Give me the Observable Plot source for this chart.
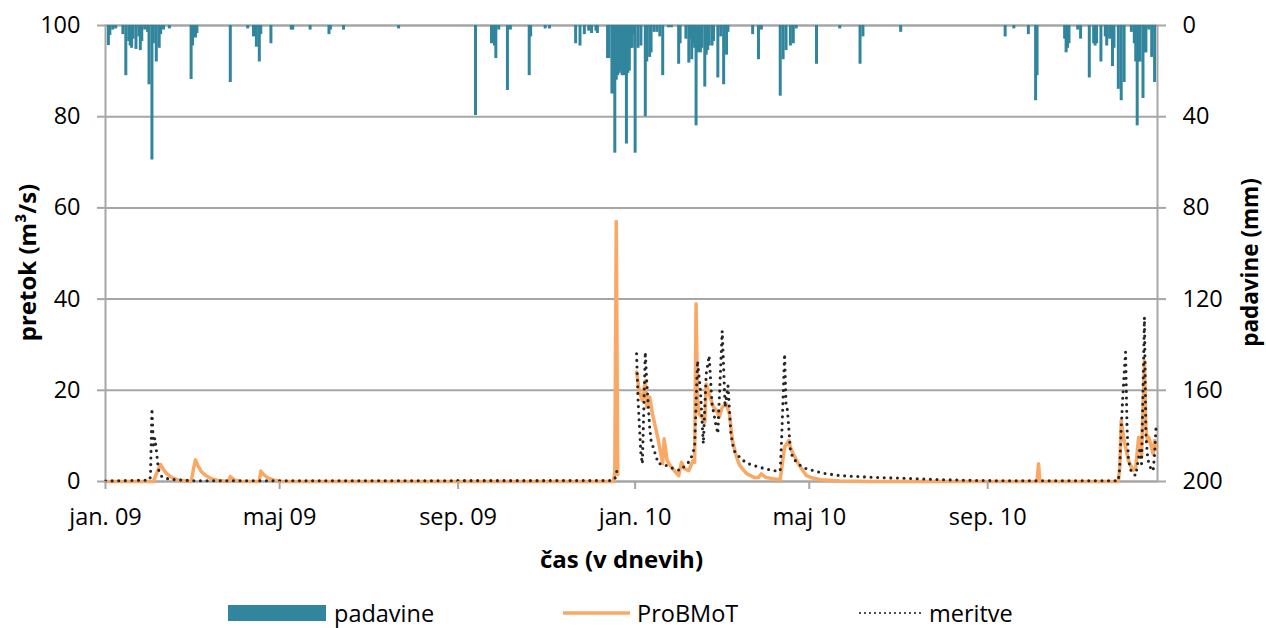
<!DOCTYPE html>
<html>
<head>
<meta charset="utf-8">
<script src="https://cdn.jsdelivr.net/npm/d3@7"></script>
<script src="https://cdn.jsdelivr.net/npm/@observablehq/plot@0.6"></script>
<style>
  body { margin: 0; background: #fff; }
  #chart svg { display: block; }
  #legend { position: relative; width: 1266px; height: 38px; font-family: "Open Sans", sans-serif; font-size: 23.5px; color: #000; }
  #legend .item { position: absolute; top: 6px; height: 34px; line-height: 34px; white-space: nowrap; }
  #legend svg { position: absolute; top: 0; }
</style>
</head>
<body>
<div id="chart"></div>
<div id="legend"></div>
<script>
// ---- x axis ticks ----
const xTickDates = ["2009-01-01", "2009-05-01", "2009-09-01", "2010-01-01", "2010-05-01", "2010-09-01"];
const xTickLabels = ["jan. 09", "maj 09", "sep. 09", "jan. 10", "maj 10", "sep. 10"];
const flowTicks = [0, 20, 40, 60, 80, 100];      // pretok (m3/s)
const rainTicks = [0, 40, 80, 120, 160, 200];    // padavine (mm), inverted

// ---- padavine (daily precipitation, mm) ----
const rainDates = [
  "2009-01-03","2009-01-04","2009-01-06","2009-01-08","2009-01-13","2009-01-15","2009-01-17","2009-01-18","2009-01-19","2009-01-20",
  "2009-01-22","2009-01-24","2009-01-25","2009-01-26","2009-01-28","2009-01-30","2009-01-31","2009-02-02","2009-02-03","2009-02-05",
  "2009-02-07","2009-02-08","2009-02-10","2009-02-14","2009-03-01","2009-03-02","2009-03-04","2009-03-05","2009-03-28","2009-04-09",
  "2009-04-13","2009-04-15","2009-04-17","2009-04-18","2009-04-25","2009-05-09","2009-05-10","2009-05-22","2009-06-04","2009-06-05",
  "2009-06-14","2009-07-22","2009-09-13","2009-09-24","2009-09-26","2009-09-27","2009-09-29","2009-10-05","2009-10-07","2009-10-20",
  "2009-10-21","2009-10-31","2009-11-03","2009-11-21","2009-11-24","2009-11-27","2009-11-30","2009-12-02","2009-12-05","2009-12-06",
  "2009-12-13","2009-12-14","2009-12-16","2009-12-17","2009-12-18","2009-12-19","2009-12-20","2009-12-21","2009-12-22","2009-12-23",
  "2009-12-24","2009-12-25","2009-12-26","2009-12-27","2009-12-28","2009-12-29","2009-12-30","2009-12-31",
  "2010-01-01","2010-01-03","2010-01-05","2010-01-08","2010-01-09","2010-01-11","2010-01-12","2010-01-14","2010-01-16","2010-01-18",
  "2010-01-20","2010-01-24","2010-01-26","2010-01-31","2010-02-01","2010-02-05","2010-02-07","2010-02-08","2010-02-09","2010-02-10",
  "2010-02-11","2010-02-12","2010-02-13","2010-02-15","2010-02-16","2010-02-18","2010-02-19","2010-02-20","2010-02-21","2010-02-23",
  "2010-02-24","2010-02-27","2010-03-01","2010-03-03","2010-03-05","2010-03-06","2010-03-23","2010-03-27","2010-03-29","2010-04-11",
  "2010-04-13","2010-04-15","2010-04-18","2010-04-20","2010-04-22","2010-05-06","2010-05-22","2010-06-05","2010-06-07","2010-07-03",
  "2010-09-13","2010-09-19","2010-09-29","2010-10-04","2010-10-05","2010-10-24","2010-10-25","2010-10-26","2010-10-27","2010-11-02",
  "2010-11-04","2010-11-10","2010-11-13","2010-11-14","2010-11-15","2010-11-18","2010-11-21","2010-11-22","2010-11-24","2010-11-26",
  "2010-11-27","2010-11-30","2010-12-02","2010-12-04","2010-12-09","2010-12-11","2010-12-12","2010-12-13","2010-12-14","2010-12-15",
  "2010-12-17","2010-12-18","2010-12-19","2010-12-21","2010-12-23","2010-12-25"
];
const rainMm = [
  8.8, 4.4, 2, 1.5, 4, 22, 7, 9, 10, 6,
  10.5, 5, 11, 7, 2, 3, 26, 59, 8, 16,
  10, 4, 2, 1.5, 23.7, 9, 5.5, 3.5, 25, 1.5,
  5, 9.5, 16, 4, 8, 2, 2, 2, 4, 2,
  2, 1.5, 39.5, 8, 9, 14.5, 2, 28.5, 2, 22,
  5, 1.5, 1.5, 8, 9, 4, 2.5, 3.5, 2.5, 3.5,
  14.5, 14.5, 30, 30, 56, 24, 22, 21, 20, 22,
  22, 20, 52, 21, 20, 10, 10, 4,
  56, 10, 9, 40, 16, 14, 12, 3, 3, 5,
  22, 1, 1, 17, 8, 6, 16.5, 6, 15, 8,
  10, 44, 12, 12, 10, 27, 13, 11, 9, 9,
  7, 23, 5, 26, 13, 3, 4, 15, 2, 31,
  15, 11, 9, 8, 1.5, 17, 1.5, 17, 5, 3,
  5, 1.5, 4, 33, 22, 6, 12, 10, 8, 2,
  6, 23, 8, 9, 8, 16, 5, 9, 6, 18,
  10, 28, 33, 25, 3, 8, 16, 44, 16, 16,
  32, 12, 12, 2, 14, 25
];

// ---- ProBMoT (modelled flow, m3/s); null = no data ----
const pbDates = [
  "2009-01-01","2009-02-03","2009-02-06","2009-02-08","2009-02-10","2009-02-12","2009-02-15","2009-02-19","2009-02-25","2009-03-01",
  "2009-03-03","2009-03-04","2009-03-06","2009-03-08","2009-03-11","2009-03-15","2009-03-20","2009-03-27","2009-03-28","2009-03-31",
  "2009-04-04","2009-04-17","2009-04-18","2009-04-20","2009-04-23","2009-04-27","2009-05-03","2009-12-17","2009-12-18","2009-12-19",
  "2009-12-20","2009-12-21",
  "2010-01-02","2010-01-04","2010-01-06","2010-01-08","2010-01-09","2010-01-11","2010-01-13","2010-01-17","2010-01-20","2010-01-21",
  "2010-01-23","2010-01-26","2010-01-31","2010-02-02","2010-02-04","2010-02-07","2010-02-10","2010-02-11","2010-02-12","2010-02-13",
  "2010-02-14","2010-02-16","2010-02-18","2010-02-19","2010-02-21","2010-02-24","2010-02-26","2010-02-28","2010-03-02","2010-03-05",
  "2010-03-07","2010-03-09","2010-03-12","2010-03-14","2010-03-17","2010-03-19","2010-03-24","2010-03-27","2010-03-29","2010-04-01",
  "2010-04-06","2010-04-11","2010-04-13","2010-04-14","2010-04-17","2010-04-18","2010-04-20","2010-04-23","2010-04-25","2010-04-29",
  "2010-05-04","2010-05-09","2010-05-22","2010-06-12","2010-10-05","2010-10-06","2010-10-07","2010-11-30","2010-12-01","2010-12-02",
  "2010-12-04","2010-12-07","2010-12-10","2010-12-12","2010-12-14","2010-12-16","2010-12-18","2010-12-19","2010-12-20","2010-12-21",
  "2010-12-24","2010-12-25","2010-12-26"
];
const pbFlow = [
  0, 0, 2.4, 3.7, 2.6, 1.8, 1.0, 0.4, 0.1, 0,
  3.3, 4.75, 3.3, 2.2, 1.3, 0.6, 0.2, 0, 1.1, 0.3,
  0.05, 0, 2.3, 1.5, 0.8, 0.3, 0, 0, 2, 57,
  1.5, null,
  24, 19.5, 17.8, 22.1, 16.3, 18.5, 14.8, 9, 3.9, 9.4,
  4.6, 3.1, 1.3, 4.2, 2.8, 2.4, 4.6, 4.2, 39, 18,
  14.8, 14.1, 13, 21.4, 19.2, 16.3, 15.6, 14.1, 16.3, 17,
  14.8, 9, 5.3, 3.6, 2.4, 1.7, 0.9, 0.9, 1.7, 0.9,
  0.6, 0.4, 5.3, 7.5, 9, 7.5, 6, 4.2, 3.1, 1.3,
  0.7, 0.4, 0.1, 0, 0, 3.9, 0, 0, 3.1, 13.4,
  9, 4.6, 2.4, 3.1, 9.7, 5.3, 26.5, 11.9, 9, 9.7,
  6, 9, 7
];

// ---- meritve (measured flow, m3/s); null = no data ----
const meDates = [
  "2009-01-01","2009-01-31","2009-02-01","2009-02-02","2009-02-03","2009-02-04","2009-02-05","2009-02-06","2009-02-07","2009-02-09",
  "2009-02-14","2009-02-22","2009-03-05","2009-12-16","2009-12-18","2009-12-19","2009-12-20","2009-12-21",
  "2010-01-02","2010-01-03","2010-01-05","2010-01-06","2010-01-08","2010-01-09","2010-01-11","2010-01-12","2010-01-17","2010-01-20",
  "2010-01-25","2010-02-01","2010-02-08","2010-02-11","2010-02-13","2010-02-15","2010-02-16","2010-02-17","2010-02-19","2010-02-21",
  "2010-02-23","2010-02-26","2010-02-27","2010-03-02","2010-03-03","2010-03-04","2010-03-06","2010-03-08","2010-03-10","2010-03-15",
  "2010-03-19","2010-03-24","2010-03-28","2010-04-01","2010-04-06","2010-04-11","2010-04-12","2010-04-13","2010-04-14","2010-04-15",
  "2010-04-16","2010-04-18","2010-04-20","2010-04-25","2010-04-29","2010-05-11","2010-05-22","2010-06-14","2010-07-07","2010-07-30",
  "2010-08-20","2010-09-10","2010-11-30","2010-12-01","2010-12-02","2010-12-03","2010-12-04","2010-12-05","2010-12-06","2010-12-07",
  "2010-12-09","2010-12-12","2010-12-14","2010-12-15","2010-12-16","2010-12-18","2010-12-19","2010-12-20","2010-12-21","2010-12-23",
  "2010-12-24","2010-12-25","2010-12-26"
];
const meFlow = [
  0.1, 0.3, 1, 16, 8, 9.5, 7, 4, 2, 1,
  0.5, 0.3, 0.15, 0.2, 0.6, 1.5, 3.5, null,
  28, 18, 6, 3.9, 28.4, 22, 12, 9, 3.9, 3.9,
  3.1, 2.4, 4.6, 7.5, 26.5, 20, 14, 8.3, 23.6, 27.6,
  17, 11.9, 10.5, 33, 25, 16.3, 21, 10.5, 6.8, 5,
  4, 3.5, 3.1, 2.8, 2.4, 2.3, 9.7, 18.5, 28, 17,
  15.6, 6.8, 5, 3.5, 2.8, 1.8, 1.3, 0.9, 0.7, 0.4,
  0.25, 0.15, 0.15, 3.1, 11.9, 18, 23.6, 28.4, 12, 4.6,
  2, 1.3, 5.3, 7.5, 3.9, 36, 10.5, 6, 3.9, 2.4,
  2.4, 6, 12
];

const parse = d3.utcParse("%Y-%m-%d");
const rain = rainDates.map((d, i) => ({date: parse(d), mm: rainMm[i]}));
const pb = pbDates.map((d, i) => ({date: parse(d), q: pbFlow[i]}));
const me = meDates.map((d, i) => ({date: parse(d), q: meFlow[i]}));
const xTicks = xTickDates.map(parse);
const xLabel = new Map(xTicks.map((d, i) => [+d, xTickLabels[i]]));
// precipitation shares the flow axis pixels: 0 mm at 100, 200 mm at 0
const rainToY = mm => 100 - mm / 2;
const rainLabel = new Map(rainTicks.map(mm => [rainToY(mm), String(mm)]));

const grey = "#a6a6a6";
const blue = "#31859c";
const orange = "#f9a866";
const dotColor = "#262626";

const chart = Plot.plot({
  width: 1266,
  height: 590,
  marginLeft: 105,
  marginRight: 109,
  marginTop: 25,
  marginBottom: 109,
  style: {fontFamily: "'Open Sans', sans-serif", fontSize: "23.5px", color: "#000", background: "#fff", overflow: "visible"},
  x: {type: "utc", domain: [parse("2009-01-01"), parse("2010-12-27")]},
  y: {domain: [0, 100]},
  marks: [
    Plot.gridY(flowTicks, {stroke: grey, strokeOpacity: 1, strokeWidth: 2}),
    Plot.frame({stroke: grey, strokeWidth: 2}),
    Plot.ruleX(rain, {x: "date", y1: () => 100, y2: d => rainToY(d.mm), stroke: blue, strokeWidth: 3}),
    Plot.line(pb, {x: "date", y: "q", stroke: orange, strokeWidth: 3.5, strokeLinejoin: "round"}),
    Plot.line(me, {x: "date", y: "q", stroke: dotColor, strokeWidth: 3.1, strokeDasharray: "0 6.6", strokeLinecap: "round", strokeLinejoin: "round"}),
    Plot.axisX(xTicks, {anchor: "bottom", tickSize: 8, tickPadding: 19, stroke: grey, strokeWidth: 2, fill: "#000",
      tickFormat: d => xLabel.get(+d), label: null}),
    Plot.axisY(flowTicks, {anchor: "left", tickSize: 8, tickPadding: 17, stroke: grey, strokeWidth: 2, fill: "#000", label: null}),
    Plot.axisY(rainTicks.map(rainToY), {anchor: "right", tickSize: 8, tickPadding: 17, stroke: grey, strokeWidth: 2, fill: "#000",
      tickFormat: v => rainLabel.get(v), label: null}),
    Plot.text(["čas (v dnevih)"], {frameAnchor: "bottom", dx: -10, dy: 79, fontWeight: "bold", fontSize: 24, textAnchor: "middle", lineAnchor: "middle"}),
    Plot.text(["pretok (m³/s)"], {frameAnchor: "left", dx: -77, dy: 9, rotate: -90, fontWeight: "bold", fontSize: 24, textAnchor: "middle", lineAnchor: "middle"}),
    Plot.text(["padavine (mm)"], {frameAnchor: "right", dx: 93, dy: 9, rotate: -90, fontWeight: "bold", fontSize: 22.5, textAnchor: "middle", lineAnchor: "middle"})
  ]
});
document.getElementById("chart").appendChild(chart);

// ---- legend (below the chart) ----
const legendItems = [
  {label: "padavine", kind: "rect", sx: 228, tx: 334},
  {label: "ProBMoT", kind: "line", sx: 563, tx: 637},
  {label: "meritve", kind: "dots", sx: 858, tx: 929}
];
const legend = document.getElementById("legend");
for (const it of legendItems) {
  const ns = "http://www.w3.org/2000/svg";
  const s = document.createElementNS(ns, "svg");
  s.setAttribute("width", 100); s.setAttribute("height", 38);
  s.style.left = it.sx + "px";
  if (it.kind === "rect") {
    const r = document.createElementNS(ns, "rect");
    r.setAttribute("x", 0); r.setAttribute("y", 15); r.setAttribute("width", 98); r.setAttribute("height", 16);
    r.setAttribute("fill", blue);
    s.appendChild(r);
  } else {
    const l = document.createElementNS(ns, "line");
    l.setAttribute("x1", it.kind === "dots" ? 2 : 0); l.setAttribute("x2", it.kind === "dots" ? 64 : 67);
    l.setAttribute("y1", 23); l.setAttribute("y2", 23);
    if (it.kind === "line") { l.setAttribute("stroke", orange); l.setAttribute("stroke-width", 3.5); }
    else { l.setAttribute("stroke", dotColor); l.setAttribute("stroke-width", 2.2); l.setAttribute("stroke-dasharray", "0 5"); l.setAttribute("stroke-linecap", "round"); }
    s.appendChild(l);
  }
  legend.appendChild(s);
  const t = document.createElement("div");
  t.className = "item";
  t.style.left = it.tx + "px";
  t.textContent = it.label;
  legend.appendChild(t);
}
</script>
</body>
</html>
